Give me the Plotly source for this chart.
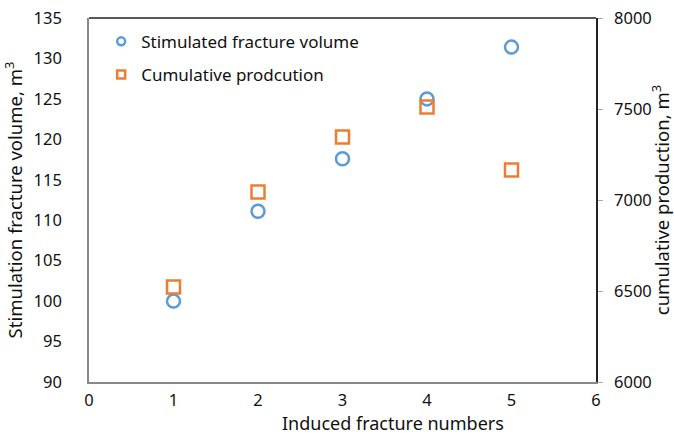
import plotly.graph_objects as go

fractures = [1, 2, 3, 4, 5]
volume = [100.0, 111.1, 117.6, 125.0, 131.4]
production = [6522, 7044, 7346, 7511, 7165]
series_names = ["Stimulated fracture volume", "Cumulative prodcution"]
x_title = "Induced fracture numbers"

blue = "#5B9BD5"
orange = "#ED7D31"
font = "Noto Sans, Open Sans, sans-serif"

fig = go.Figure()
fig.add_trace(go.Scatter(
    x=fractures, y=volume, mode="markers", name=series_names[0], showlegend=False,
    marker=dict(symbol="circle-open", size=13, color=blue, line=dict(width=2.5, color=blue)),
))
fig.add_trace(go.Scatter(
    x=fractures, y=production, mode="markers", name=series_names[1], yaxis="y2", showlegend=False,
    marker=dict(symbol="square-open", size=13, color=orange, line=dict(width=2.5, color=orange)),
))
# legend entries with small symbols, as in the reference
fig.add_trace(go.Scatter(
    x=[None], y=[None], mode="markers", name=series_names[0], legendgroup="a",
    marker=dict(symbol="circle-open", size=8, color=blue, line=dict(width=2.5, color=blue)),
))
fig.add_trace(go.Scatter(
    x=[None], y=[None], mode="markers", name=series_names[1], legendgroup="b",
    marker=dict(symbol="square-open", size=8, color=orange, line=dict(width=2.5, color=orange)),
))

fig.update_layout(
    width=674, height=435,
    margin=dict(l=89, r=78, t=18, b=53),
    paper_bgcolor="white", plot_bgcolor="white",
    font=dict(family=font, size=16, color="#111"),
    showlegend=True,
    legend=dict(x=0.024, y=0.984, xanchor="left", yanchor="top",
                bgcolor="rgba(0,0,0,0)", font=dict(size=17), itemwidth=30,
                tracegroupgap=8),
    xaxis=dict(range=[0, 6], dtick=1, showgrid=False, zeroline=False, automargin=False,
               showline=True, linecolor="#888", linewidth=1.5,
               ticks="", tickfont=dict(size=16.5), ticklabelstandoff=2),
    yaxis=dict(range=[90, 135], dtick=5, showgrid=False, zeroline=False, automargin=False,
               showline=True, linecolor="#888", linewidth=1.5, ticks="",
               tickfont=dict(size=16.5), ticklabelstandoff=22,
               title=dict(text="Stimulation fracture volume, m<sup>3</sup>", font=dict(size=18.5), standoff=6)),
    yaxis2=dict(range=[6000, 8000], dtick=500, overlaying="y", side="right", automargin=False,
                showgrid=False, zeroline=False, showline=True, linecolor="#222", linewidth=1.5,
                ticks="outside", ticklen=5, tickcolor="#aaa", tickfont=dict(size=16.5),
                ticklabelstandoff=8,
                title=dict(text="cumulative production, m<sup>3</sup>", font=dict(size=18.5), standoff=6)),
    shapes=[dict(type="line", xref="paper", yref="paper", x0=0, x1=1, y0=1, y1=1,
                 line=dict(color="#222", width=1.5))],
    annotations=[dict(text=x_title, xref="paper", yref="paper", x=0.6, y=-0.113,
                      xanchor="center", yanchor="middle", showarrow=False,
                      font=dict(size=18))],
)

fig.write_html("out.html")
